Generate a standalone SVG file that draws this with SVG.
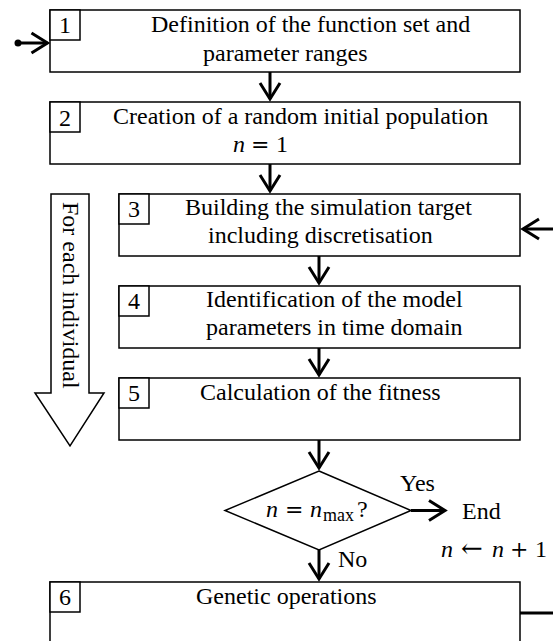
<svg xmlns="http://www.w3.org/2000/svg" width="553" height="641" viewBox="0 0 553 641">
<style>
.box{fill:#fff;stroke:#000;stroke-width:1.5}
.t{font-family:"Liberation Serif","Times New Roman",serif;font-size:24px;fill:#000}
.num{font-family:"Liberation Serif","Times New Roman",serif;font-size:24px;fill:#000;text-anchor:middle}
.it{font-style:italic}
.op{font-family:"DejaVu Serif","Liberation Serif",serif;font-size:22px}
.arrowop{font-family:"DejaVu Serif","Liberation Serif",serif;font-size:26px}
.sub{font-size:18px}
.con{stroke:#000;stroke-width:3;fill:none}
</style>
<defs>
<marker id="arr" markerUnits="userSpaceOnUse" markerWidth="24" markerHeight="28" viewBox="-20 -14 24 28" refX="0" refY="0" orient="auto">
<path d="M -16 -10 L 0 0 L -16 10" fill="none" stroke="#000" stroke-width="3"/>
</marker>
</defs>

<g id="loop-arrow">
<path d="M 51 194 L 89 194 L 89 393 L 104 393 L 70 446 L 35 393 L 51 393 Z" fill="#fff" stroke="#000" stroke-width="1.5"/>
<text class="t" transform="translate(63,202) rotate(90)">For each individual</text>
</g>

<g id="node1">
<rect class="box" x="50" y="10" width="470" height="62"/>
<rect class="box" x="50" y="10" width="30" height="30"/>
<text class="num" x="65" y="33">1</text>
<text class="t" x="151" y="32">Definition of the function set and</text>
<text class="t" x="203" y="61">parameter ranges</text>
</g>

<g id="node2">
<rect class="box" x="50" y="102" width="470" height="62"/>
<rect class="box" x="50" y="102" width="30" height="30"/>
<text class="num" x="65" y="126">2</text>
<text class="t" x="113" y="124">Creation of a random initial population</text>
<text class="t" y="152"><tspan class="it" x="233">n</tspan><tspan class="op" x="251">=</tspan><tspan x="276">1</tspan></text>
</g>

<g id="node3">
<rect class="box" x="119" y="194" width="401" height="62"/>
<rect class="box" x="119" y="194" width="30" height="30"/>
<text class="num" x="134" y="217">3</text>
<text class="t" x="185" y="215">Building the simulation target</text>
<text class="t" x="208" y="243">including discretisation</text>
</g>

<g id="node4">
<rect class="box" x="119" y="286" width="401" height="62"/>
<rect class="box" x="119" y="286" width="30" height="30"/>
<text class="num" x="134" y="309">4</text>
<text class="t" x="206" y="307">Identification of the model</text>
<text class="t" x="206" y="335">parameters in time domain</text>
</g>

<g id="node5">
<rect class="box" x="119" y="378" width="401" height="62"/>
<rect class="box" x="119" y="378" width="30" height="30"/>
<text class="num" x="134" y="401">5</text>
<text class="t" x="200" y="400">Calculation of the fitness</text>
</g>

<g id="decision">
<polygon class="box" points="319,471 411,510.5 319,550 225,510.5"/>
<text class="t" y="517"><tspan class="it" x="266">n</tspan><tspan class="op" x="285">=</tspan><tspan class="it" x="310">n</tspan><tspan class="sub" x="323" dy="4">max</tspan><tspan x="357" dy="-4">?</tspan></text>
</g>

<g id="end">
<text class="t" x="462" y="519">End</text>
</g>

<g id="node6">
<rect class="box" x="50" y="582" width="470" height="70"/>
<rect class="box" x="50" y="582" width="30" height="30"/>
<text class="num" x="65" y="605">6</text>
<text class="t" x="196" y="604">Genetic operations</text>
</g>

<g id="connectors">
<circle cx="18" cy="43" r="3.5" fill="#000"/>
<line class="con" x1="18" y1="43" x2="47.5" y2="43" marker-end="url(#arr)"/>
<line class="con" x1="270" y1="72" x2="270" y2="99" marker-end="url(#arr)"/>
<line class="con" x1="270" y1="164" x2="270" y2="191" marker-end="url(#arr)"/>
<line class="con" x1="319" y1="256" x2="319" y2="283" marker-end="url(#arr)"/>
<line class="con" x1="319" y1="348" x2="319" y2="375" marker-end="url(#arr)"/>
<line class="con" x1="319" y1="440" x2="319" y2="468" marker-end="url(#arr)"/>
<line class="con" x1="319" y1="550" x2="319" y2="579" marker-end="url(#arr)"/>
<line class="con" x1="411" y1="510.5" x2="445" y2="510.5" marker-end="url(#arr)"/>
<line class="con" x1="556" y1="229" x2="523" y2="229" marker-end="url(#arr)"/>
<line class="con" x1="520" y1="613" x2="556" y2="613"/>
<text class="t" x="400" y="491">Yes</text>
<text class="t" x="338" y="567">No</text>
<text class="t" y="557"><tspan class="it" x="441">n</tspan><tspan class="arrowop" x="461">←</tspan><tspan class="it" x="492">n</tspan><tspan class="op" x="510">+</tspan><tspan x="535">1</tspan></text>
</g>
</svg>
